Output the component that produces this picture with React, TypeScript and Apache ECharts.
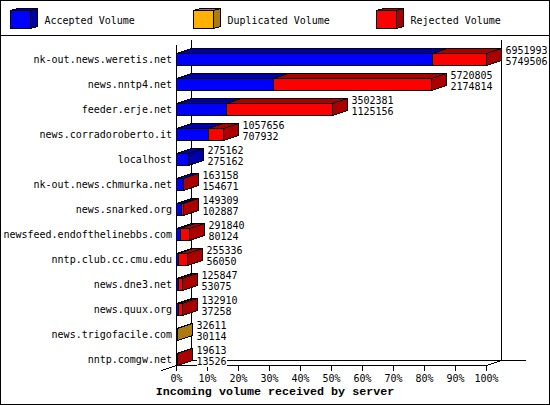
import React, { useEffect, useRef } from "react";
import * as echarts from "echarts";

const categories = [
  "nk-out.news.weretis.net", "news.nntp4.net", "feeder.erje.net", "news.corradoroberto.it",
  "localhost", "nk-out.news.chmurka.net", "news.snarked.org", "newsfeed.endofthelinebbs.com",
  "nntp.club.cc.cmu.edu", "news.dne3.net", "news.quux.org", "news.trigofacile.com", "nntp.comgw.net",
];
const accepted = [5749506, 2174814, 1125156, 707932, 275162, 154671, 102887, 80124, 56050, 53075, 37258, 30114, 13526];
const duplicated = [0, 0, 0, 0, 0, 0, 0, 0, 0, 0, 0, 2497, 0];
const rejected = [1202487, 3545991, 2377225, 349724, 0, 8487, 46422, 211716, 199286, 72772, 95652, 0, 6087];
const totals = [6951993, 5720805, 3502381, 1057656, 275162, 163158, 149309, 291840, 255336, 125847, 132910, 32611, 19613];
const shownSecond = accepted;
const fullScale = 6951993;
const percentTicks = [0, 10, 20, 30, 40, 50, 60, 70, 80, 90, 100];
const legendNames = ["Accepted Volume", "Duplicated Volume", "Rejected Volume"];
const title = "Incoming volume received by server";

const FONT = "DejaVu Sans Mono";
const palette = [
  { front: "#0000ff", dark: "#0000aa" },
  { front: "#ffb000", dark: "#ab7a10" },
  { front: "#ff0000", dark: "#aa0000" },
];
const DX = 15;
const DY = 5;
const HALF = 6;
const snap = (v: number) => Math.round(v - 0.5) + 0.5;
const pct = (v: number) => (v / fullScale) * 100;

const segmentSeries = (idx: number, values: number[]) => ({
  type: "custom",
  name: legendNames[idx],
  coordinateSystem: "cartesian2d",
  z: 3,
  data: values.map((v, i) => {
    const parts = [accepted[i], duplicated[i], rejected[i]];
    const start = parts.slice(0, idx).reduce((a, b) => a + b, 0);
    const isLast = v > 0 && parts.slice(idx + 1).every((p) => p === 0);
    return [pct(start), pct(start + v), i, isLast ? 1 : 0, v];
  }),
  renderItem: (_p: any, api: any) => {
    if (api.value(4) === 0) return { type: "group", children: [] };
    const a = api.coord([api.value(0), api.value(2)]);
    const b = api.coord([api.value(1), api.value(2)]);
    const x0 = snap(a[0]);
    const x1 = snap(b[0]);
    const top = a[1] - HALF;
    const bot = a[1] + HALF;
    const stroke = { stroke: "#000", lineWidth: 1 };
    const children: any[] = [
      {
        type: "polygon",
        shape: { points: [[x0, top], [x1, top], [x1 + DX, top - DY], [x0 + DX, top - DY]] },
        style: { fill: palette[idx].dark, ...stroke },
      },
      {
        type: "rect",
        shape: { x: x0, y: top, width: x1 - x0, height: bot - top },
        style: { fill: palette[idx].front, ...stroke },
      },
    ];
    if (api.value(3) === 1) {
      children.push({
        type: "polygon",
        shape: { points: [[x1, top], [x1 + DX, top - DY], [x1 + DX, bot - DY], [x1, bot]] },
        style: { fill: palette[idx].dark, ...stroke },
      });
    }
    return { type: "group", children };
  },
});

const labelSeries = {
  type: "custom",
  name: "Values",
  coordinateSystem: "cartesian2d",
  z: 4,
  data: totals.map((t, i) => [pct(t), i, t, shownSecond[i]]),
  renderItem: (_p: any, api: any) => {
    const c = api.coord([api.value(0), api.value(1)]);
    const x = snap(c[0]) + DX + 4;
    const mk = (text: string, y: number) => ({
      type: "text",
      style: {
        x, y, text: String(text), fill: "#000", font: `10px "${FONT}"`,
        verticalAlign: "middle", align: "left", backgroundColor: "#fff",
      },
    });
    return {
      type: "group",
      children: [mk(String(api.value(2)), c[1] - 9), mk(String(api.value(3)), c[1] + 2)],
    };
  },
};

const line = (x1: number, y1: number, x2: number, y2: number) => ({
  type: "line",
  z: 1,
  shape: { x1, y1, x2, y2 },
  style: { stroke: "#000", lineWidth: 1 },
});

const legendGraphics = legendNames.flatMap((name, i) => {
  const x = 10.5 + 183 * i;
  const s = { stroke: "#000", lineWidth: 1 };
  return [
    { type: "polygon", z: 2, shape: { points: [[x, 10.5], [x + 20, 10.5], [x + 27, 8.5], [x + 7, 8.5]] }, style: { fill: palette[i].dark, ...s } },
    { type: "polygon", z: 2, shape: { points: [[x + 20, 10.5], [x + 27, 8.5], [x + 27, 26.5], [x + 20, 28.5]] }, style: { fill: palette[i].dark, ...s } },
    { type: "rect", z: 2, shape: { x, y: 10.5, width: 20, height: 18 }, style: { fill: palette[i].front, ...s } },
    { type: "text", z: 2, style: { x: x + 34, y: 20, text: name, fill: "#000", font: `10px "${FONT}"`, verticalAlign: "middle" } },
  ];
});

export default function App() {
  const ref = useRef<HTMLDivElement>(null);
  useEffect(() => {
    const chart = echarts.init(ref.current!, undefined, { renderer: "svg" });
    chart.setOption({
      animation: false,
      backgroundColor: "#fff",
      grid: { left: 176.5, width: 310, top: 47, height: 325 },
      title: {
        text: title, left: "center", top: 386, padding: 0,
        textStyle: { fontFamily: "Liberation Mono", fontWeight: "bold", fontSize: 11.7, color: "#000" },
      },
      xAxis: {
        type: "value", min: 0, max: 100, interval: 10, offset: -6.5,
        splitLine: { show: false },
        axisLine: { show: true, lineStyle: { color: "#000", width: 1 } },
        axisTick: { show: true, length: 5, lineStyle: { color: "#000", width: 1 } },
        axisLabel: {
          margin: 8, color: "#000", fontFamily: FONT, fontSize: 10,
          formatter: (v: number) => (percentTicks.includes(v) ? `${v}%` : ""),
        },
      },
      yAxis: {
        type: "category", inverse: true, data: categories,
        axisLine: { show: false }, axisTick: { show: false }, splitLine: { show: false },
        axisLabel: { margin: 4.5, color: "#000", fontFamily: FONT, fontSize: 10, interval: 0 },
      },
      graphic: [
        { type: "rect", z: 1, shape: { x: 0.5, y: 0.5, width: 549, height: 404 }, style: { fill: "transparent", stroke: "#000", lineWidth: 1 } },
        line(0, 35.5, 550, 35.5),
        line(176.5, 45, 176.5, 371),
        line(191.5, 40, 191.5, 361),
        line(501.5, 40, 501.5, 361),
        line(191.5, 360.5, 526, 360.5),
        line(161.5, 370.5, 191.5, 360.5),
        line(486.5, 365.5, 501.5, 360.5),
        ...legendGraphics,
      ],
      series: [
        segmentSeries(0, accepted),
        segmentSeries(1, duplicated),
        segmentSeries(2, rejected),
        labelSeries,
      ],
    });
    return () => chart.dispose();
  }, []);
  return (
    <div
      ref={ref}
      style={{ position: "absolute", left: 0, top: 0, width: 550, height: 405, shapeRendering: "crispEdges" } as any}
    />
  );
}
